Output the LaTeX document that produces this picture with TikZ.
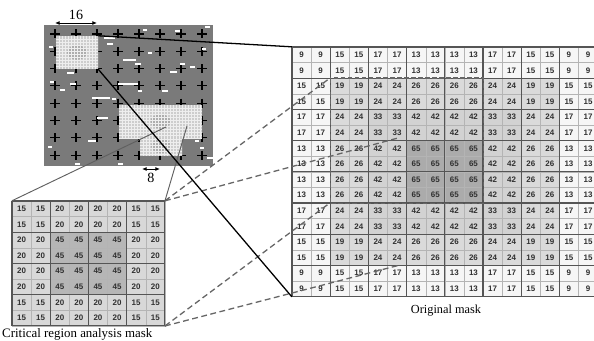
\documentclass[tikz,border=0pt]{standalone}
\usepackage{fontspec}
\setmainfont{Liberation Serif}
\setsansfont{Liberation Sans}
\usetikzlibrary{arrows.meta}
\definecolor{imgGray}{HTML}{7A7A7A}
\definecolor{patchFill}{HTML}{CDCDCD}
\definecolor{patchCore}{HTML}{ADADAD}
\definecolor{patchMesh}{HTML}{EEEEEE}
\definecolor{gridThin}{HTML}{B4B4B4}
\definecolor{gridThick}{HTML}{555555}
\definecolor{ring1}{HTML}{F6F6F6}
\definecolor{ring2}{HTML}{DADADA}
\definecolor{ring3}{HTML}{D2D2D2}
\definecolor{ring4}{HTML}{ABABAB}
\definecolor{critLight}{HTML}{D8D8D8}
\definecolor{critDark}{HTML}{B6B6B6}
\definecolor{dashGray}{HTML}{666666}
\definecolor{cellText}{HTML}{303030}
\newcommand{\cellw}{19.1}
\newcommand{\cellh}{15.6}

\begin{document}
\begin{tikzpicture}[
  x=0.03cm, y=-0.03cm,
  >={Latex[length=4pt,width=3.5pt]},
  cell/.style={inner sep=0pt, minimum width=0.573cm, minimum height=0.468cm,
               draw=gridThin, line width=0.3pt, text=cellText,
               font=\sffamily\bfseries\fontsize{6.8}{7}\selectfont},
  thickgrid/.style={draw=gridThick, line width=0.9pt},
  patch/.style={fill=patchFill, inner sep=0pt, path picture={
      \fill[patchCore] (path picture bounding box.center) ellipse (0.3cm and 0.22cm);
      \foreach \m in {1,...,30}{
        \draw[patchMesh, line width=0.3pt]
          ([xshift=\m*0.09cm]path picture bounding box.north west) --
          ([xshift=\m*0.09cm]path picture bounding box.south west);
        \draw[patchMesh, line width=0.3pt]
          ([yshift=-\m*0.09cm]path picture bounding box.north west) --
          ([yshift=-\m*0.09cm]path picture bounding box.north east);
      }}},
  crossline/.style={line width=1pt, black},
  speck/.style={fill=white},
  zoomline/.style={line width=1.1pt, black},
  pickline/.style={line width=0.8pt, draw=gray!75!black},
  dashlink/.style={line width=1.1pt, draw=dashGray, dash pattern=on 5pt off 3pt},
  boxdash/.style={line width=0.9pt, draw=dashGray, dash pattern=on 4pt off 2pt},
  dimarrow/.style={<->, line width=0.8pt},
  dimlabel/.style={inner sep=0pt, font=\fontsize{12}{13}\selectfont},
  caption/.style={inner sep=0pt, font=\fontsize{10.5}{12}\selectfont}
]
\clip (0,0) rectangle (594,341);
\fill[white] (0,0) rectangle (594,341);

% input image with sampling grid
\fill[imgGray] (44,25) rectangle (213,166);
\foreach \i in {0,...,7}{
  \foreach \j in {0,...,7}{
    \draw[crossline] ({55+21*\i-5},{34+17.3*\j}) -- ++(10,0)
                     ({55+21*\i},{34+17.3*\j-4.5}) -- ++(0,9);
  }
}
\foreach \x/\y/\w in {104/37/11,107/43/6,123/59/13,135/63/6,170/71/7,175/30/5,
    143/29/4,190/66/5,118/83/20,92/97/18,97/117/11,67/72/7,49/46/4,50/81/4,
    70/83/6,88/140/8,48/146/4,75/163/5,118/163/5,162/90/6,138/90/4,180/63/5,
    202/48/4,207/157/6,195/140/4,200/147/4,60/89/5,112/98/4,205/26/5,148/52/4}
  \fill[speck] (\x,\y) rectangle ++(\w,1.8);

\node[patch, minimum width=1.26cm, minimum height=0.99cm] (patchA) at (77,52.5) {};
\node[patch, minimum width=2.49cm, minimum height=0.99cm] (patchB) at (160.5,121.5) {};
\node[patch, minimum width=1.26cm, minimum height=0.6cm] (patchC) at (161,146) {};
\coordinate (hitL) at (166,127);
\coordinate (hitR) at (187,126);

% block sizes
\coordinate (dim16a) at (55,23);
\coordinate (dim16b) at (97,23);
\draw[dimarrow] (dim16a) -- (dim16b);
\node[dimlabel] (lab16) at (76,15) {16};
\coordinate (dim8a) at (142,169);
\coordinate (dim8b) at (160,169);
\draw[dimarrow] (dim8a) -- (dim8b);
\node[dimlabel] (lab8) at (151,178) {8};

% original mask
\foreach \rowvals [count=\ri] in {
  {9,9,15,15,17,17,13,13,13,13,17,17,15,15,9,9},
  {9,9,15,15,17,17,13,13,13,13,17,17,15,15,9,9},
  {15,15,19,19,24,24,26,26,26,26,24,24,19,19,15,15},
  {15,15,19,19,24,24,26,26,26,26,24,24,19,19,15,15},
  {17,17,24,24,33,33,42,42,42,42,33,33,24,24,17,17},
  {17,17,24,24,33,33,42,42,42,42,33,33,24,24,17,17},
  {13,13,26,26,42,42,65,65,65,65,42,42,26,26,13,13},
  {13,13,26,26,42,42,65,65,65,65,42,42,26,26,13,13},
  {13,13,26,26,42,42,65,65,65,65,42,42,26,26,13,13},
  {13,13,26,26,42,42,65,65,65,65,42,42,26,26,13,13},
  {17,17,24,24,33,33,42,42,42,42,33,33,24,24,17,17},
  {17,17,24,24,33,33,42,42,42,42,33,33,24,24,17,17},
  {15,15,19,19,24,24,26,26,26,26,24,24,19,19,15,15},
  {15,15,19,19,24,24,26,26,26,26,24,24,19,19,15,15},
  {9,9,15,15,17,17,13,13,13,13,17,17,15,15,9,9},
  {9,9,15,15,17,17,13,13,13,13,17,17,15,15,9,9}}{
  \foreach \v [count=\ci] in \rowvals {
    \pgfmathtruncatemacro{\ring}{min(\ri,\ci,17-\ri,17-\ci)}
    \pgfmathtruncatemacro{\lvl}{(\ring+1)/2}
    \node[cell, fill=ring\lvl] (orig-\ri-\ci)
      at ({292+(\ci-0.5)*\cellw},{47+(\ri-0.5)*\cellh}) {\v};
  }
}
\foreach \k in {0,2,...,16}{
  \draw[thickgrid] ({292+\k*\cellw},47) -- ({292+\k*\cellw},{47+16*\cellh});
  \draw[thickgrid] (292,{47+\k*\cellh}) -- ({292+16*\cellw},{47+\k*\cellh});
}
\draw[boxdash] (orig-3-3.north west) rectangle (orig-10-10.south east);
\node[caption] (origcap) at (446,311) {Original mask};

% critical region analysis mask
\foreach \rowvals [count=\ri] in {
  {15,15,20,20,20,20,15,15},{15,15,20,20,20,20,15,15},
  {20,20,45,45,45,45,20,20},{20,20,45,45,45,45,20,20},
  {20,20,45,45,45,45,20,20},{20,20,45,45,45,45,20,20},
  {15,15,20,20,20,20,15,15},{15,15,20,20,20,20,15,15}}{
  \foreach \v [count=\ci] in \rowvals {
    \ifnum\v>40 \def\cellfill{critDark}\else\def\cellfill{critLight}\fi
    \node[cell, fill=\cellfill] (crit-\ri-\ci)
      at ({12+(\ci-0.5)*\cellw},{201+(\ri-0.5)*\cellh}) {\v};
  }
}
\foreach \k in {0,2,...,8}{
  \draw[thickgrid] ({12+\k*\cellw},201) -- ({12+\k*\cellw},{201+8*\cellh});
  \draw[thickgrid] (12,{201+\k*\cellh}) -- ({12+8*\cellw},{201+\k*\cellh});
}
\node[caption, anchor=west, font=\fontsize{11}{12}\selectfont] (critcap) at (2,334.5)
  {Critical region analysis mask};

% links
\coordinate (reachTop) at (398,138);
\coordinate (reachBot) at (400,265);
\draw[dashlink] (crit-1-8.north east) -- (orig-3-3.north west);
\draw[dashlink] (crit-1-8.north east) -- (reachTop);
\draw[dashlink] (crit-8-8.south east) -- (orig-11-3.north west);
\draw[dashlink] (crit-8-8.south east) -- (reachBot);
\draw[pickline] (crit-1-1.north west) -- (hitL);
\draw[pickline] (crit-1-8.north east) -- (hitR);
\draw[zoomline] (patchA.north east) -- (orig-1-1.north west);
\draw[zoomline] (patchA.south east) -- (orig-16-1.south west);
\end{tikzpicture}
\end{document}
